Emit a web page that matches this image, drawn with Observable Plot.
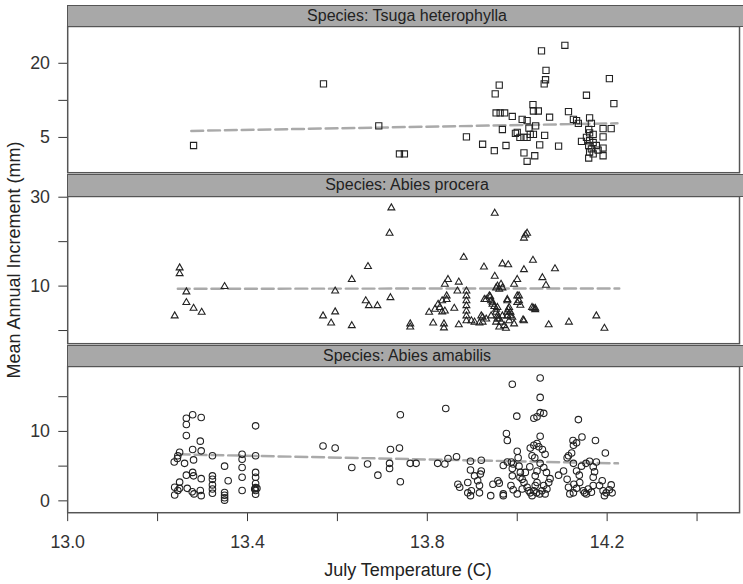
<!DOCTYPE html>
<html>
<head>
<meta charset="utf-8">
<script src="https://cdn.jsdelivr.net/npm/d3@7"></script>
<script src="https://cdn.jsdelivr.net/npm/@observablehq/plot@0.6"></script>
<style>
  body { margin: 0; background: #fff; }
  #chart { position: relative; width: 743px; height: 584px; overflow: hidden;
           font-family: "Liberation Sans", Arial, sans-serif; color: #222; background: #fff; }
  .strip { position: absolute; left: 67px; width: 690px; box-sizing: border-box;
           background: #a8a8a8; border: 1.5px solid #555; font-size: 16px; text-align: center;
           padding-right: 10px; color: #222; }
  .panel { position: absolute; left: 0; }
  .ytitle { position: absolute; width: 400px; height: 20px; line-height: 20px; font-size: 18px;
            text-align: center; transform: rotate(-90deg); }
  .xtitle { position: absolute; width: 400px; line-height: 20px; font-size: 18px; text-align: center; }
</style>
</head>
<body>
<div id="chart"></div>
<script>
// ---------- data ----------
const species = ["Tsuga heterophylla", "Abies procera", "Abies amabilis"];
const stripPrefix = "Species: ";
const xTitle = "July Temperature (C)";
const yTitle = "Mean Annual Increment (mm)";

const xTicks = [13.0, 13.2, 13.4, 13.6, 13.8, 14.0, 14.2, 14.4];
const xTickLabels = ["13.0", "", "13.4", "", "13.8", "", "14.2", ""];

// Tsuga heterophylla (squares)
const tsugaTemp = [13.280,13.569,13.692,13.738,13.749,13.887,13.923,13.949,13.975,13.951,
  13.960,13.953,13.962,13.972,13.989,13.967,14.011,14.022,13.996,14.006,
  14.015,14.022,14.026,14.029,14.036,14.035,14.036,14.047,14.041,14.061,
  14.050,14.015,14.022,14.039,14.072,14.054,14.106,14.064,14.063,14.060,
  14.092,14.114,14.125,14.132,14.154,14.205,14.215,14.161,14.165,14.159,
  14.161,14.169,14.154,14.161,14.143,14.169,14.159,14.176,14.165,14.191,
  14.180,14.161,14.169,14.191,14.159,14.191,14.209,14.191,14.136,14.000];
const tsugaMAI = [4.3,13.6,6.2,3.67,3.67,5.05,4.4,3.9,4.3,11.3,
  13.3,7.9,7.9,7.9,7.4,5.8,7.0,6.85,5.4,5.0,
  5.0,5.0,5.95,5.3,5.3,9.25,8.2,8.2,6.2,5.2,
  4.35,3.75,3.2,3.55,7.3,25.2,28.0,17.5,14.7,13.6,
  4.25,8.1,7.0,6.85,11.0,15.0,9.4,7.2,6.5,5.8,
  5.45,5.3,5.0,4.7,4.65,4.55,4.3,4.3,4.03,4.1,
  3.95,3.8,3.67,3.55,3.4,5.9,5.9,5.05,6.5,5.5];
const tsugaTrendTemp = [13.275, 14.223];
const tsugaTrendMAI = [5.65, 6.51];
const tsugaTicks = [5, 10, 20];
const tsugaTickLabels = ["5", "", "20"];

// Abies procera (triangles)
const proceraTemp = [13.249,13.249,13.238,13.264,13.264,13.280,13.298,13.349,13.568,13.586,
  13.595,13.595,13.632,13.632,13.668,13.663,13.670,13.689,13.720,13.716,
  13.718,13.762,13.762,13.813,13.837,13.837,13.870,13.804,13.817,13.824,
  13.828,13.833,13.843,13.833,13.839,13.843,13.846,13.839,13.860,13.870,
  13.867,13.881,13.887,13.887,13.887,13.887,13.887,13.887,13.887,13.898,
  13.905,13.916,13.923,13.923,13.931,13.926,13.927,13.938,13.942,13.945,
  13.950,13.950,13.953,13.956,13.960,13.964,13.967,13.956,13.953,13.956,
  13.960,13.964,13.971,13.953,13.960,13.967,13.967,13.980,13.978,13.980,
  13.985,13.978,13.989,13.982,13.993,14.000,14.000,14.004,14.015,14.018,
  14.022,14.015,14.013,14.035,14.036,14.040,14.056,14.064,14.070,14.084,
  14.115,14.176,14.194,13.931,13.940,13.945,13.949,13.953,13.978,13.982,
  13.978,14.004,14.000,14.007,14.040,14.033,14.015,13.920,13.942,13.956,
  13.975,13.985,13.993];
const proceraMAI = [14.1,12.8,3.3,8.7,6.3,5.0,4.1,9.9,3.3,1.7,
  4.2,8.9,11.5,1.1,14.4,6.7,5.6,5.6,27.6,21.9,
  7.4,1.5,0.8,1.7,1.5,0.6,1.3,4.1,4.8,5.9,
  5.2,6.7,7.0,4.2,4.4,7.8,11.5,10.4,5.0,10.9,
  8.9,16.5,8.9,7.8,6.7,5.6,4.4,3.3,2.2,2.2,
  1.9,1.7,3.0,1.9,2.6,14.3,7.0,7.8,6.7,5.9,
  12.2,26.4,9.6,10.0,9.3,10.4,9.6,5.2,4.1,3.3,
  2.6,1.9,1.1,1.9,0.8,3.3,15.0,14.8,6.7,4.8,
  4.1,3.3,3.0,2.2,10.4,11.5,7.8,6.7,13.7,21.5,
  21.9,20.8,2.4,15.8,5.0,5.0,11.9,10.2,1.3,13.9,
  1.9,3.3,0.5,7.0,7.6,6.4,5.4,4.8,7.0,5.2,
  4.1,7.8,6.3,5.7,4.7,5.2,2.2,3.3,3.3,2.6,
  0.5,3.3,1.5];
const proceraTrendTemp = [13.245, 14.227];
const proceraTrendMAI = [9.42, 9.45];
const proceraTicks = [0, 10, 20, 30];
const proceraTickLabels = ["", "10", "", "30"];

// Abies amabilis (circles)
const amabilisTemp = [13.238,13.238,13.245,13.249,13.249,13.237,13.244,13.249,13.245,13.260,
  13.264,13.264,13.264,13.278,13.297,13.278,13.280,13.297,13.295,13.264,
  13.278,13.280,13.297,13.266,13.277,13.281,13.295,13.297,13.322,13.322,
  13.322,13.322,13.322,13.322,13.349,13.357,13.349,13.349,13.349,13.349,
  13.388,13.388,13.388,13.388,13.388,13.418,13.418,13.418,13.418,13.418,
  13.418,13.418,13.418,13.416,13.421,
  13.568,13.595,13.632,13.667,13.690,13.716,13.718,13.738,13.716,13.740,
  13.740,13.762,13.775,13.823,13.839,13.846,13.865,13.841,13.868,13.872,
  13.890,13.898,13.890,13.905,13.912,13.920,13.916,13.896,13.916,13.896,
  13.920,13.941,13.946,13.957,13.960,13.969,13.969,13.969,13.976,13.978,
  13.989,13.999,14.000,13.896,13.918,13.978,13.991,
  13.987,13.989,13.989,13.986,13.991,14.000,14.004,14.007,14.006,14.002,
  14.011,14.015,14.022,14.026,14.029,14.033,14.037,14.040,14.044,14.043,
  14.050,14.055,14.059,14.062,14.066,14.070,14.073,14.065,14.059,14.051,
  14.044,14.040,14.033,14.029,14.037,14.044,14.051,14.048,14.056,14.062,
  14.037,14.044,14.051,14.059,14.051,14.051,14.039,14.028,14.018,14.011,
  14.092,14.103,14.114,14.121,14.125,14.124,14.136,14.144,14.174,14.196,
  14.111,14.114,14.126,14.117,14.125,14.132,14.139,14.147,14.150,14.158,
  14.154,14.165,14.169,14.169,14.172,14.169,14.161,14.153,14.143,14.132,
  14.138,14.176,14.183,14.189,14.191,14.198,14.205,14.209,14.211,14.194,
  14.132,14.125,14.111];
const amabilisMAI = [0.85,1.95,1.5,1.8,2.7,5.6,6.1,7.0,6.5,5.4,
  9.4,11.0,11.9,12.4,12.0,7.4,5.9,7.2,8.6,3.7,
  4.1,3.6,3.2,1.8,1.3,1.0,1.5,0.75,3.6,3.1,
  2.3,1.7,1.1,6.5,5.0,2.9,1.2,0.8,0.45,0.1,
  6.7,6.0,4.8,3.4,1.5,10.8,6.5,4.1,3.4,2.5,
  1.9,1.5,0.95,1.7,1.8,
  7.9,7.6,4.8,5.3,3.7,4.65,7.4,7.6,5.4,2.75,
  12.4,5.4,5.4,5.4,5.3,6.1,6.35,13.3,2.4,1.95,
  2.65,1.45,1.15,3.6,2.9,4.3,2.2,0.75,1.15,5.7,
  5.85,0.75,2.4,2.9,2.55,0.75,1.0,5.1,9.7,8.7,
  16.8,12.2,7.15,4.45,3.85,5.6,5.3,
  5.6,4.65,3.6,2.2,1.6,1.0,5.0,4.1,3.4,6.2,
  3.1,2.65,1.95,1.45,1.15,0.75,1.45,2.2,2.65,1.15,
  1.0,1.45,2.2,1.0,1.7,2.65,3.2,4.1,4.8,5.4,
  4.3,3.6,6.5,7.6,8.0,8.25,9.3,7.8,7.4,6.7,
  11.9,12.1,12.7,12.6,14.9,17.7,6.2,4.9,4.1,1.7,
  3.7,4.3,6.5,6.9,8.0,8.7,11.7,9.2,8.7,6.9,
  3.1,1.95,2.4,1.0,1.15,1.8,2.65,1.45,1.15,1.7,
  1.0,1.25,2.2,3.4,4.2,4.9,5.7,5.4,5.0,4.3,
  3.7,5.6,2.2,2.9,1.45,1.15,1.6,2.3,1.15,0.75,
  8.35,5.4,6.2];
const amabilisTrendTemp = [13.245, 14.224];
const amabilisTrendMAI = [6.7, 5.4];
const amabilisTicks = [0, 5, 10, 15];
const amabilisTickLabels = ["0", "", "10", ""];

// ---------- layout ----------
const FONT = '"Liberation Sans", Arial, sans-serif';
const panels = [
  {name: species[0], temp: tsugaTemp, val: tsugaMAI, tT: tsugaTrendTemp, tV: tsugaTrendMAI,
   ticks: tsugaTicks, labels: tsugaTickLabels, type: "log", domain: [2.585, 39.8],
   symbol: "square", r: 3.55, stripTop: 5, top: 26, h: 148},
  {name: species[1], temp: proceraTemp, val: proceraMAI, tT: proceraTrendTemp, tV: proceraTrendMAI,
   ticks: proceraTicks, labels: proceraTickLabels, type: "linear", domain: [-2.96, 30.16],
   symbol: "triangle", r: 2.6, stripTop: 174, top: 196, h: 149},
  {name: species[2], temp: amabilisTemp, val: amabilisMAI, tT: amabilisTrendTemp, tV: amabilisTrendMAI,
   ticks: amabilisTicks, labels: amabilisTickLabels, type: "linear", domain: [-1.71, 19.35],
   symbol: "circle", r: 3.3, stripTop: 345, top: 366, h: 148}
];

const chart = document.getElementById("chart");
const xLabelOf = new Map(xTicks.map((t, i) => [t, xTickLabels[i]]));

panels.forEach((p, k) => {
  const last = k === panels.length - 1;
  const pts = p.temp.map((t, i) => ({t, v: p.val[i]}));
  const trend = p.tT.map((t, i) => ({t, v: p.tV[i]}));
  const yLabelOf = new Map(p.ticks.map((t, i) => [t, p.labels[i]]));
  const mb = last ? 70 : 0;
  const svg = Plot.plot({
    width: 752,
    height: p.h + mb,
    marginLeft: 68, marginRight: 4, marginTop: 0, marginBottom: mb,
    style: {fontFamily: FONT, fontSize: "18px", color: "#333", background: "transparent", overflow: "visible"},
    x: {domain: [13, 13 + 680 / 455], ticks: xTicks, tickFormat: d => xLabelOf.get(d) ?? "",
        tickSize: 9, tickPadding: 14, label: null, axis: last ? "bottom" : null},
    y: {type: p.type, domain: p.domain, ticks: p.ticks, tickFormat: d => yLabelOf.get(d) ?? "",
        tickSize: 9, tickPadding: 9, label: null},
    marks: [
      Plot.line(trend, {x: "t", y: "v", stroke: "#aaaaaa", strokeWidth: 2.5, strokeDasharray: "12,5"}),
      Plot.dot(pts, {x: "t", y: "v", symbol: p.symbol, r: p.r, stroke: "#222", strokeWidth: 1.1}),
      Plot.frame({stroke: "#555", strokeWidth: 1.5})
    ]
  });
  const wrap = document.createElement("div");
  wrap.className = "panel";
  wrap.style.top = p.top + "px";
  wrap.appendChild(svg);
  chart.appendChild(wrap);

  const strip = document.createElement("div");
  strip.className = "strip";
  const sh = p.top - p.stripTop + 1;
  strip.style.top = p.stripTop + "px";
  strip.style.height = sh + "px";
  strip.style.lineHeight = (sh - 3) + "px";
  strip.textContent = stripPrefix + p.name;
  chart.appendChild(strip);
});

const yt = document.createElement("div");
yt.className = "ytitle";
yt.textContent = yTitle;
yt.style.left = (13.5 - 200) + "px";
yt.style.top = (259.5 - 10) + "px";
chart.appendChild(yt);

const xt = document.createElement("div");
xt.className = "xtitle";
xt.textContent = xTitle;
xt.style.left = (408 - 200) + "px";
xt.style.top = "560px";
chart.appendChild(xt);
</script>
</body>
</html>
